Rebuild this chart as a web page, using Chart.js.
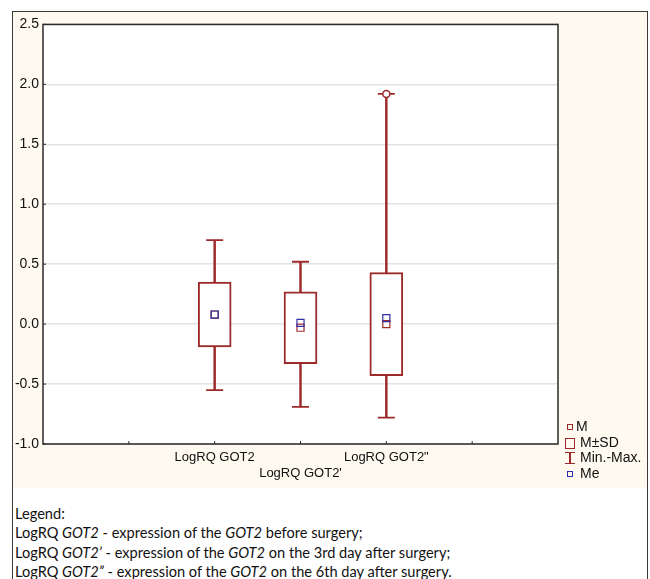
<!DOCTYPE html>
<html>
<head>
<meta charset="utf-8">
<script src="https://cdn.jsdelivr.net/npm/chart.js@4.4.0/dist/chart.umd.min.js"></script>
<style>
body { margin: 0; background: #fff; }
#frame { position: absolute; left: 12px; top: 11px; width: 634px; height: 600px; border: 1px solid #3a3a3a; border-bottom: none; }
#top { position: relative; height: 476px; background: #fefaef; }
#legend { position: absolute; left: 552px; top: 407px; width: 80px; font: 14px "Liberation Sans", Arial, sans-serif; color: #111; white-space: nowrap; }
#legend div { position: relative; height: 15.5px; line-height: 15.5px; padding-left: 15px; }
#legend span { position: absolute; box-sizing: border-box; }
.sm { width: 6px; height: 6px; left: 2px; top: 5px; border: 1.2px solid #9c2a2a; }
.big { width: 10px; height: 11px; left: 0; top: 3px; border: 1.6px solid #9c2a2a; }
.ii { width: 10px; height: 12px; left: 0; top: 2px; border-top: 1.5px solid #9c2a2a; border-bottom: 1.5px solid #9c2a2a;
      background: linear-gradient(to right, transparent 4.2px, #9c2a2a 4.2px, #9c2a2a 5.7px, transparent 5.7px); }
.me { border-color: #3030a8; }
#notes { padding: 16px 0 0 2px; font: 14.6px Lato, "Open Sans", sans-serif; line-height: 19.3px; color: #111; white-space: nowrap; }
</style>
</head>
<body>
<div id="frame">
  <div id="top">
    <canvas id="myChart" width="634" height="476"></canvas>
    <div id="legend">
      <div style="padding-left:11px"><span class="sm"></span>M</div>
      <div><span class="big"></span>M±SD</div>
      <div><span class="ii"></span>Min.-Max.</div>
      <div><span class="sm me"></span>Me</div>
    </div>
  </div>
  <div id="notes">
    Legend:<br>
    LogRQ <i>GOT2</i> - expression of the <i>GOT2</i> before surgery;<br>
    LogRQ <i>GOT2’</i> - expression of the <i>GOT2</i> on the 3rd day after surgery;<br>
    LogRQ <i>GOT2”</i> - expression of the <i>GOT2</i> on the 6th day after surgery.
  </div>
</div>
<script>
const categories = ["LogRQ GOT2", "LogRQ GOT2'", 'LogRQ GOT2"'];
const positions = [2, 3, 4];
const means = [0.08, -0.03, 0.0];
const sds = [0.27, 0.30, 0.43];
const medians = [0.08, 0.01, 0.05];
const mins = [-0.55, -0.69, -0.78];
const maxs = [0.70, 0.52, 1.92];
const outliers = [null, null, 1.92];
const yTicks = [-1.0, -0.5, 0.0, 0.5, 1.0, 1.5, 2.0, 2.5];

const red = '#9c2a2a';
const blue = '#3030a8';

// hvit bakgrunn i plottet + ramme og små innvendige tick-streker
const framePlugin = {
  id: 'frame',
  beforeDraw(chart) {
    const a = chart.chartArea, ctx = chart.ctx;
    ctx.save();
    ctx.fillStyle = '#fff';
    ctx.fillRect(a.left, a.top, a.right - a.left, a.bottom - a.top);
    ctx.restore();
  },
  afterDraw(chart) {
    const a = chart.chartArea, ctx = chart.ctx;
    const xs = chart.scales.x, ys = chart.scales.y;
    ctx.save();
    ctx.strokeStyle = '#2a2a2a';
    ctx.lineWidth = 1.5;
    ctx.strokeRect(a.left, a.top, a.right - a.left, a.bottom - a.top);
    ctx.lineWidth = 1;
    ctx.beginPath();
    for (let v = 1; v <= 5; v++) {
      const px = xs.getPixelForValue(v);
      ctx.moveTo(px, a.bottom);
      ctx.lineTo(px, a.bottom - 3);
    }
    yTicks.forEach(v => {
      const py = ys.getPixelForValue(v);
      ctx.moveTo(a.left, py);
      ctx.lineTo(a.left + 3, py);
    });
    ctx.stroke();
    ctx.restore();
  }
};

const pts = arr => positions.map((x, i) => ({ x: x, y: arr[i] }));

const ctx = document.getElementById('myChart');
new Chart(ctx, {
  type: 'bar',
  data: {
    datasets: [
      {
        label: 'whisker',
        data: positions.map((x, i) => ({ x: x, y: [mins[i], maxs[i]] })),
        backgroundColor: red,
        barThickness: 1.8,
        grouped: false,
        order: 6
      },
      {
        label: 'M±SD',
        data: positions.map((x, i) => ({ x: x, y: [means[i] - sds[i], means[i] + sds[i]] })),
        backgroundColor: '#fff',
        borderColor: red,
        borderWidth: 2,
        borderSkipped: false,
        barThickness: 33,
        grouped: false,
        order: 5
      },
      {
        type: 'scatter',
        label: 'Min.-Max.',
        data: pts(mins).concat(pts(maxs)),
        pointStyle: 'line',
        radius: 8.5,
        borderColor: red,
        borderWidth: 1.8,
        order: 4
      },
      {
        type: 'scatter',
        label: 'M',
        data: pts(means),
        pointStyle: 'rect',
        radius: 5,
        borderColor: red,
        backgroundColor: 'rgba(255,255,255,0)',
        borderWidth: 1.2,
        order: 3
      },
      {
        type: 'scatter',
        label: 'Me',
        data: pts(medians),
        pointStyle: 'rect',
        radius: 5,
        borderColor: blue,
        backgroundColor: 'rgba(255,255,255,0)',
        borderWidth: 1.2,
        order: 2
      },
      {
        type: 'scatter',
        label: 'outlier',
        data: pts(outliers).filter(p => p.y !== null),
        pointStyle: 'circle',
        radius: 3.5,
        borderColor: red,
        backgroundColor: '#fff',
        borderWidth: 1.5,
        order: 1
      }
    ]
  },
  options: {
    responsive: false,
    animation: false,
    layout: { padding: { top: 11, right: 89, left: 0, bottom: 0 } },
    plugins: { legend: { display: false }, tooltip: { enabled: false } },
    scales: {
      x: {
        type: 'linear',
        min: 0,
        max: 6,
        offset: false,
        afterFit(s) { s.height = 44; },
        grid: { display: false, drawTicks: false },
        border: { display: false },
        ticks: {
          stepSize: 1,
          autoSkip: false,
          maxRotation: 0,
          padding: 4.5,
          color: '#111',
          font: { family: '"Liberation Sans", Arial, sans-serif', size: 13, lineHeight: 1.3 },
          callback(v) {
            const i = positions.indexOf(v);
            if (i < 0) return '';
            return i === 1 ? ['', categories[i]] : categories[i];
          }
        }
      },
      y: {
        min: -1,
        max: 2.5,
        afterFit(s) { s.width = 30; },
        grid: { color: '#e2e2e2', lineWidth: 1.5, drawTicks: false },
        border: { display: false },
        ticks: {
          stepSize: 0.5,
          padding: 4,
          color: '#111',
          font: { family: '"Liberation Sans", Arial, sans-serif', size: 14 },
          callback: v => v.toFixed(1)
        }
      }
    }
  },
  plugins: [framePlugin]
});
</script>
</body>
</html>
